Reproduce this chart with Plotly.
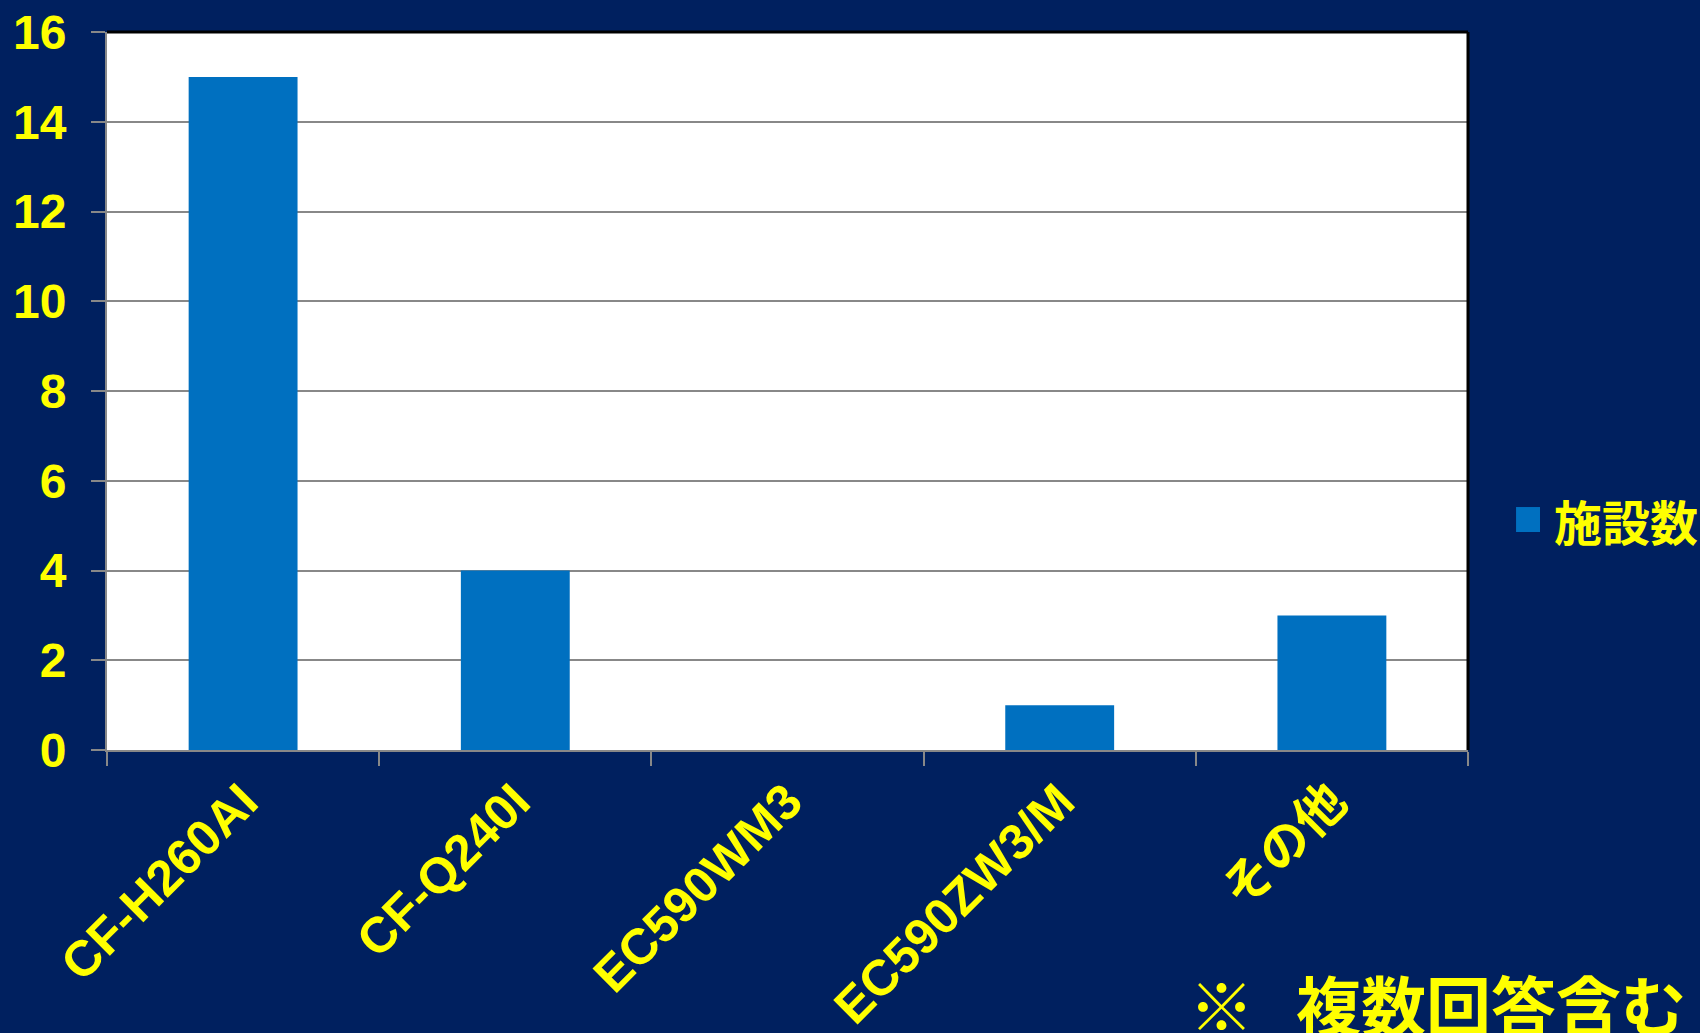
import plotly.graph_objects as go

categories = ["CF-H260AI", "CF-Q240I", "EC590WM3", "EC590ZW3/M", "その他"]
values = [15, 4, 0, 1, 3]
series_name = "施設数"
y_ticks = [0, 2, 4, 6, 8, 10, 12, 14, 16]
note_mark = "※"
note_text = "複数回答含む"

NAVY = "#00205F"
BAR = "#0070C0"
YELLOW = "#FFFF00"
GRAY = "#888888"
FONT = "Liberation Sans, Arial, Noto Sans CJK JP, sans-serif"
CJK = "Noto Sans CJK JP, sans-serif"

fig = go.Figure()
fig.add_trace(go.Bar(x=categories, y=values, name=series_name,
                     marker=dict(color=BAR, line=dict(width=0)),
                     showlegend=False))

fig.update_layout(
    width=1700, height=1033,
    margin=dict(l=107, r=232, t=32, b=283, autoexpand=False),
    paper_bgcolor=NAVY, plot_bgcolor="white",
    bargap=0.6,
    font=dict(family=FONT, color=YELLOW, size=44, weight="bold"),
)
fig.update_yaxes(range=[0, 16], tickvals=y_ticks, showgrid=True, gridcolor=GRAY, gridwidth=1.5,
                 showline=True, linecolor=GRAY, linewidth=2, ticks="outside", ticklen=14,
                 tickcolor=GRAY, tickwidth=2, zeroline=False, ticklabelstandoff=15,
                 automargin=False,
                 tickfont=dict(family=FONT, size=48, color=YELLOW, weight="bold"))
fig.update_xaxes(showline=True, linecolor=GRAY, linewidth=2, ticks="outside", ticklen=14,
                 tickcolor=GRAY, tickwidth=2, tickson="boundaries", tickangle=-45,
                 automargin=False,
                 tickfont=dict(family=FONT, size=50, color=YELLOW, weight="bold"),
                 showgrid=False)

# top and right plot border (black)
fig.add_shape(type="line", xref="paper", yref="paper", x0=0, x1=1, y0=1, y1=1,
              line=dict(color="black", width=3))
fig.add_shape(type="line", xref="paper", yref="paper", x0=1, x1=1, y0=0, y1=1,
              line=dict(color="black", width=3))

# legend (square + label)
fig.add_shape(type="rect", xref="paper", yref="paper", x0=1.0353, x1=1.0529, y0=0.3036, y1=0.3384,
              fillcolor=BAR, line=dict(width=0))
fig.add_annotation(xref="paper", yref="paper", x=1.062, y=0.3203, xanchor="left", yanchor="middle",
                   text=series_name, showarrow=False,
                   font=dict(family=CJK, size=48, color=YELLOW, weight="bold"))

# note
fig.add_annotation(xref="paper", yref="paper", x=0.7935, y=-0.352, xanchor="left", yanchor="middle",
                   text=note_mark, showarrow=False,
                   font=dict(family=CJK, size=65, color=YELLOW, weight="bold"))
fig.add_annotation(xref="paper", yref="paper", x=0.8725, y=-0.352, xanchor="left", yanchor="middle",
                   text=note_text, showarrow=False,
                   font=dict(family=CJK, size=65, color=YELLOW, weight="bold"))

fig.write_html("out.html")
